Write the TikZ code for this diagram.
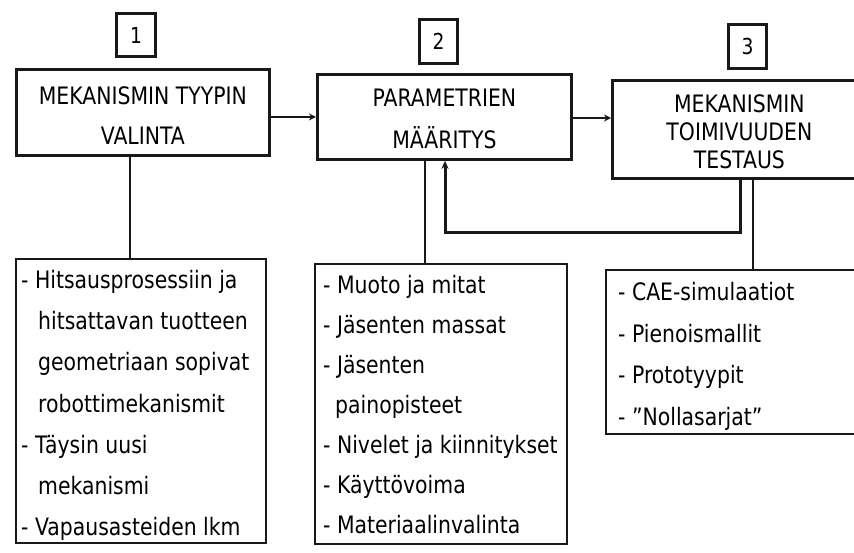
\documentclass[tikz,border=0pt]{standalone}
\usepackage{fontspec}
\usetikzlibrary{arrows.meta}
\newfontfamily\diafont{DejaVu Sans}[FakeStretch=0.85]
\begin{document}
\begin{tikzpicture}[x=1pt,y=-1pt,
  ink/.style={draw=black!90},
  stagebox/.style={ink,line width=2.8pt,rectangle,anchor=north west,inner sep=0pt},
  numbox/.style={ink,line width=3pt,rectangle,anchor=north west,inner sep=0pt,
    font=\diafont\fontsize{22}{26}\selectfont},
  listbox/.style={ink,line width=1.8pt,rectangle,anchor=north west,inner sep=0pt},
  titletext/.style={align=center,inner sep=0pt},
  listtext/.style={align=left,anchor=north west,inner sep=0pt},
  link/.style={ink,line width=1.3pt},
  flow/.style={ink,line width=2.6pt,-{Stealth[length=7pt,width=7pt]}},
  feedback/.style={ink,line width=3pt,-{Stealth[length=8pt,width=7pt]}}
]
\useasboundingbox (0,0) rectangle (854,552);
\clip (0,0) rectangle (854,552);
\fill[white] (0,0) rectangle (854,552);

% step numbers
\node[numbox,minimum width=39pt,minimum height=43pt] (n1) at (115,12) {1};
\node[numbox,minimum width=38pt,minimum height=44pt] (n2) at (418,18) {2};
\node[numbox,minimum width=38pt,minimum height=44pt] (n3) at (727,23) {3};

% stage boxes
\node[stagebox,minimum width=253pt,minimum height=86pt] (b1) at (15,68) {};
\node[stagebox,minimum width=254pt,minimum height=85pt] (b2) at (316,73) {};
\node[stagebox,minimum width=254pt,minimum height=98pt] (b3) at (611,79) {};

\node[titletext,font=\diafont\fontsize{24}{40}\selectfont] (t1) at ([yshift=-3pt]b1.center)
  {MEKANISMIN TYYPIN\\VALINTA};
\node[titletext,font=\diafont\fontsize{24}{42}\selectfont] (t2) at ([yshift=-2pt]b2.center)
  {PARAMETRIEN\\MÄÄRITYS};
\node[titletext,font=\diafont\fontsize{24}{28}\selectfont] (t3) at ([yshift=-2pt]b3.center)
  {MEKANISMIN\\TOIMIVUUDEN\\TESTAUS};

% detail boxes
\node[listbox,minimum width=250pt,minimum height=284pt] (b4) at (15,258) {};
\node[listbox,minimum width=252pt,minimum height=280pt] (b5) at (314,263) {};
\node[listbox,minimum width=255pt,minimum height=164pt] (b6) at (605,269) {};

\node[listtext,font=\diafont\fontsize{24}{41.2}\selectfont] (l4) at (21,270)
  {- Hitsausprosessiin ja\\
   \hspace*{17pt}hitsattavan tuotteen\\
   \hspace*{17pt}geometriaan sopivat\\
   \hspace*{17pt}robottimekanismit\\
   - Täysin uusi\\
   \hspace*{17pt}mekanismi\\
   - Vapausasteiden lkm};
\node[listtext,font=\diafont\fontsize{24}{40}\selectfont] (l5) at (323,275)
  {- Muoto ja mitat\\
   - Jäsenten massat\\
   - Jäsenten\\
   \hspace*{12pt}painopisteet\\
   - Nivelet ja kiinnitykset\\
   - Käyttövoima\\
   - Materiaalinvalinta};
\node[listtext,font=\diafont\fontsize{24}{41.7}\selectfont] (l6) at (618,282)
  {- CAE-simulaatiot\\
   - Pienoismallit\\
   - Prototyypit\\
   - ”Nollasarjat”};

% connectors
\coordinate (k1) at (130,0);
\coordinate (k2) at (425,0);
\coordinate (k3) at (753,0);
\coordinate (a2) at (0,118);
\coordinate (fb) at (740,232);
\coordinate (fx) at (445,0);

\draw[link] (b1.south -| k1) -- (b4.north -| k1);
\draw[link] (b2.south -| k2) -- (b5.north -| k2);
\draw[link] (b3.south -| k3) -- (b6.north -| k3);

\draw[flow] (b1.east |- b2.west) -- (b2.west);
\draw[flow] (b2.east |- a2) -- (b3.west |- a2);
\draw[feedback] (b3.south -| fb) -- (fb) -- (fb -| fx) -- (b2.south -| fx);
\end{tikzpicture}
\end{document}
